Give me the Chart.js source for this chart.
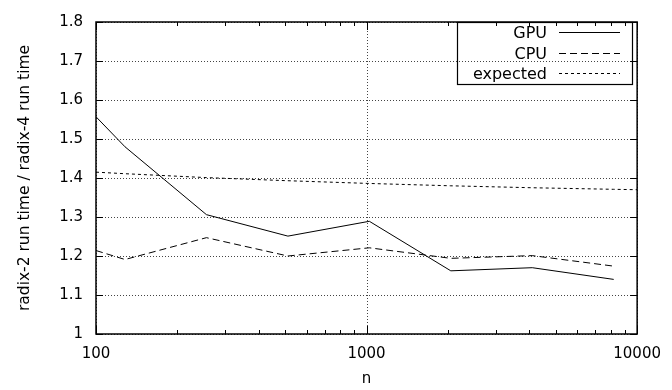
<!DOCTYPE html>
<html>
<head>
<meta charset="utf-8">
<script src="https://cdn.jsdelivr.net/npm/chart.js@4.4.1/dist/chart.umd.min.js"></script>
<style>
html, body { margin: 0; padding: 0; background: #fff; }
</style>
</head>
<body>
<canvas id="ratioChart" width="672" height="390"></canvas>
<script>
// data
const sizes = [100, 128, 256, 512, 1024, 2048, 4096, 8192];
const gpuRatio = [1.557, 1.480, 1.306, 1.251, 1.289, 1.162, 1.170, 1.140];
const cpuRatio = [1.214, 1.191, 1.247, 1.200, 1.221, 1.194, 1.201, 1.174];
const expectedN = [100, 128, 256, 512, 1024, 2048, 4096, 8192, 10000];
const expectedRatio = [1.415, 1.411, 1.401, 1.393, 1.386, 1.380, 1.375, 1.371, 1.370];

const xTickValues = [100, 1000, 10000];
const yTickValues = [1, 1.1, 1.2, 1.3, 1.4, 1.5, 1.6, 1.7, 1.8];

const FONT = "'DejaVu Sans', 'Liberation Sans', Arial, sans-serif";

const toPoints = (xs, ys) => xs.map((x, i) => ({ x: x, y: ys[i] }));

// gnuplot-ish frame: border, inward ticks, dotted grid, boxed legend
const gnuplotFrame = {
    id: 'gnuplotFrame',
    beforeDatasetsDraw(chart) {
        const { ctx, chartArea: a, scales: { x, y } } = chart;
        ctx.save();
        ctx.strokeStyle = '#444';
        ctx.lineWidth = 1;
        ctx.setLineDash([1, 2]);
        yTickValues.forEach(v => {
            const py = Math.round(y.getPixelForValue(v)) + 0.5;
            ctx.beginPath(); ctx.moveTo(a.left, py); ctx.lineTo(a.right, py); ctx.stroke();
        });
        xTickValues.forEach(v => {
            const px = Math.round(x.getPixelForValue(v)) + 0.5;
            ctx.beginPath(); ctx.moveTo(px, a.top); ctx.lineTo(px, a.bottom); ctx.stroke();
        });
        ctx.restore();
    },
    afterDatasetsDraw(chart) {
        const { ctx, chartArea: a, scales: { x, y } } = chart;
        ctx.save();
        ctx.strokeStyle = '#000';
        ctx.setLineDash([]);
        ctx.lineWidth = 1;

        // y ticks, left and right
        yTickValues.forEach(v => {
            const py = Math.round(y.getPixelForValue(v)) + 0.5;
            ctx.beginPath();
            ctx.moveTo(a.left, py); ctx.lineTo(a.left + 7, py);
            ctx.moveTo(a.right, py); ctx.lineTo(a.right - 7, py);
            ctx.stroke();
        });
        // x ticks, bottom and top (major + minor)
        for (let dec = 100; dec < 10000; dec *= 10) {
            for (let m = 1; m <= 10; m++) {
                const px = Math.round(x.getPixelForValue(dec * m)) + 0.5;
                const len = (m === 1 || m === 10) ? 8 : 4;
                ctx.beginPath();
                ctx.moveTo(px, a.bottom); ctx.lineTo(px, a.bottom - len);
                ctx.moveTo(px, a.top); ctx.lineTo(px, a.top + len);
                ctx.stroke();
            }
        }
        // border
        ctx.lineWidth = 1.5;
        ctx.strokeRect(a.left, a.top, a.right - a.left, a.bottom - a.top);

        // legend
        const bx = 457, by = 22, bw = 175, bh = 62;
        ctx.lineWidth = 1.2;
        ctx.strokeRect(bx + 0.5, by + 0.5, bw, bh);
        ctx.font = '16px ' + FONT;
        ctx.fillStyle = '#000';
        ctx.textAlign = 'right';
        ctx.textBaseline = 'middle';
        chart.data.datasets.forEach((ds, i) => {
            const ry = Math.round(32 + i * 20.5) + 0.5;
            ctx.fillText(ds.label, 547, ry + 1);
            ctx.lineWidth = 1;
            ctx.setLineDash(ds.borderDash || []);
            ctx.beginPath(); ctx.moveTo(559, ry); ctx.lineTo(620, ry); ctx.stroke();
            ctx.setLineDash([]);
        });
        ctx.restore();
    }
};

const ctx = document.getElementById('ratioChart').getContext('2d');

new Chart(ctx, {
    type: 'line',
    data: {
        datasets: [
            { label: 'GPU', data: toPoints(sizes, gpuRatio), borderColor: '#000', borderWidth: 1, borderDash: [] },
            { label: 'CPU', data: toPoints(sizes, cpuRatio), borderColor: '#000', borderWidth: 1, borderDash: [7, 4] },
            { label: 'expected', data: toPoints(expectedN, expectedRatio), borderColor: '#000', borderWidth: 1, borderDash: [3, 3] }
        ]
    },
    options: {
        responsive: false,
        animation: false,
        events: [],
        elements: { point: { radius: 0 }, line: { tension: 0 } },
        layout: { padding: { top: 13, right: 29, bottom: 0, left: 0 } },
        plugins: {
            legend: { display: false },
            tooltip: { enabled: false },
            title: { display: false }
        },
        scales: {
            x: {
                type: 'logarithmic',
                min: 100,
                max: 10000,
                afterBuildTicks: s => { s.ticks = xTickValues.map(v => ({ value: v })); },
                afterFit: s => { s.height = 56; },
                grid: { display: false, drawTicks: false },
                border: { display: false },
                ticks: {
                    color: '#000',
                    font: { family: FONT, size: 15 },
                    padding: 11,
                    maxRotation: 0,
                    autoSkip: false,
                    callback: v => String(v)
                },
                title: {
                    display: true,
                    text: 'n',
                    color: '#000',
                    font: { family: FONT, size: 15 },
                    padding: { top: 0, bottom: 2 }
                }
            },
            y: {
                type: 'linear',
                min: 1,
                max: 1.8,
                afterBuildTicks: s => { s.ticks = yTickValues.map(v => ({ value: v })); },
                afterFit: s => { s.width = 96; },
                grid: { display: false, drawTicks: false },
                border: { display: false },
                ticks: {
                    color: '#000',
                    font: { family: FONT, size: 15 },
                    padding: 13,
                    autoSkip: false,
                    callback: v => String(+v.toFixed(1))
                },
                title: {
                    display: true,
                    text: 'radix-2 run time / radix-4 run time',
                    color: '#000',
                    font: { family: FONT, size: 15.5 },
                    padding: { top: 16, bottom: 0 }
                }
            }
        }
    },
    plugins: [gnuplotFrame]
});

ctx.canvas.style.backgroundColor = 'white';
</script>
</body>
</html>
